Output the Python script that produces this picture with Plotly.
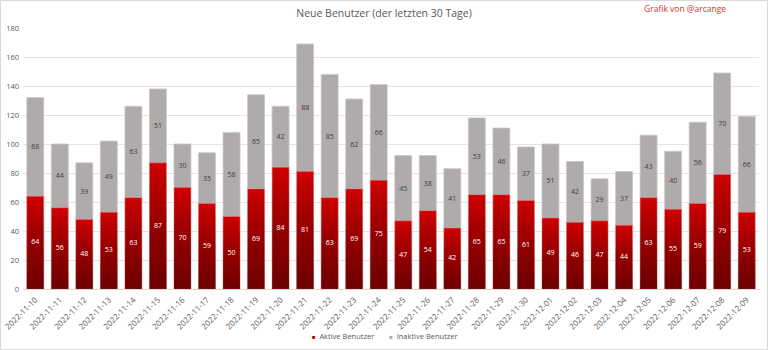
import plotly.graph_objects as go

dates = ["2022-11-10","2022-11-11","2022-11-12","2022-11-13","2022-11-14","2022-11-15",
         "2022-11-16","2022-11-17","2022-11-18","2022-11-19","2022-11-20","2022-11-21",
         "2022-11-22","2022-11-23","2022-11-24","2022-11-25","2022-11-26","2022-11-27",
         "2022-11-28","2022-11-29","2022-11-30","2022-12-01","2022-12-02","2022-12-03",
         "2022-12-04","2022-12-05","2022-12-06","2022-12-07","2022-12-08","2022-12-09"]
active = [64,56,48,53,63,87,70,59,50,69,84,81,63,69,75,47,54,42,65,65,61,49,46,47,44,63,55,59,79,53]
inactive = [68,44,39,49,63,51,30,35,58,65,42,88,85,62,66,45,38,41,53,46,37,51,42,29,37,43,40,56,70,66]
series_names = ["Aktive Benutzer", "Inaktive Benutzer"]
series_colors = ["#C00000", "#AFABAB"]

W, H = 768, 350
ML, MR, MT, MB = 23, 9, 28, 61
PW, PH = W - ML - MR, H - MT - MB

fig = go.Figure()

# inactive bars stacked on top of active
fig.add_trace(go.Bar(
    x=dates, y=inactive, base=active, name=series_names[1], showlegend=False,
    marker=dict(color=series_colors[1], line=dict(color="#C9C6C6", width=0.8)),
    text=inactive, textposition="inside", insidetextanchor="middle", textangle=0,
    textfont=dict(size=7, color="#404040", family="Open Sans"),
    constraintext="none",
))
# active bars (base colour)
fig.add_trace(go.Bar(
    x=dates, y=active, name=series_names[0], showlegend=False,
    marker=dict(color="#CC0000", line=dict(color="#E07070", width=0.6)),
))
# gradient: translucent dark layers over the lower part of each active bar
N = 20
for k in range(1, N):
    frac = 1 - k / N
    fig.add_trace(go.Bar(
        x=dates, y=[v * frac for v in active], showlegend=False, hoverinfo="skip",
        marker=dict(color="rgba(40,0,0,0.034)", line=dict(width=0)),
    ))
# labels for active bars
fig.add_trace(go.Scatter(
    x=dates, y=[v / 2 for v in active], mode="text", text=[str(v) for v in active],
    textfont=dict(size=7, color="white", family="Open Sans"),
    showlegend=False, hoverinfo="skip",
))

legend_y = -(336 - (MT + PH)) / PH
legend_text = "\u2003\u2003".join(
    f"<span style='color:{c};font-size:6px'>■</span>\u2002{n}"
    for n, c in zip(series_names, series_colors)
)

fig.update_layout(
    width=W, height=H,
    margin=dict(l=ML, r=MR, t=MT, b=MB, autoexpand=False),
    barmode="overlay", bargap=0.31, showlegend=False,
    paper_bgcolor="white", plot_bgcolor="white",
    font=dict(family="Open Sans", color="#595959", size=8),
    title=dict(text="Neue Benutzer (der letzten 30 Tage)", x=0.5, xanchor="center",
               y=1 - 13 / H, yanchor="middle", font=dict(size=10.5, color="#595959")),
    xaxis=dict(type="category", tickangle=-45, tickfont=dict(size=8, color="#595959"),
               showgrid=False, showline=True, linecolor="#D9D9D9", linewidth=1, ticks="",
               automargin=False, range=[-0.5, len(dates) - 0.5], ticklabelstandoff=2),
    yaxis=dict(range=[0, 180], dtick=20, tickfont=dict(size=7.5, color="#595959"),
               showgrid=True, gridcolor="#E3E3E3", gridwidth=1, zeroline=False,
               showline=False, ticks="", ticklabelstandoff=3, automargin=False),
    annotations=[
        dict(text="Grafik von @arcange", xref="paper", yref="paper",
             x=(685 - ML) / PW, y=1 + (MT - 8) / PH, xanchor="center",
             yanchor="middle", showarrow=False,
             font=dict(size=8.5, color="#E03030", family="Open Sans")),
        dict(text=legend_text, xref="paper", yref="paper",
             x=(385 - ML) / PW, y=legend_y, xanchor="center", yanchor="middle",
             showarrow=False, font=dict(size=7.5, color="#595959", family="Open Sans")),
    ],
    shapes=[dict(type="rect", xref="paper", yref="paper",
                 x0=-(ML - 0.5) / PW, x1=(W - ML - 0.5) / PW,
                 y0=-(MB - 0.5) / PH, y1=1 + (MT - 0.5) / PH,
                 line=dict(color="#D9D9D9", width=1), fillcolor="rgba(0,0,0,0)", layer="above")],
)

fig.write_html("out.html")
